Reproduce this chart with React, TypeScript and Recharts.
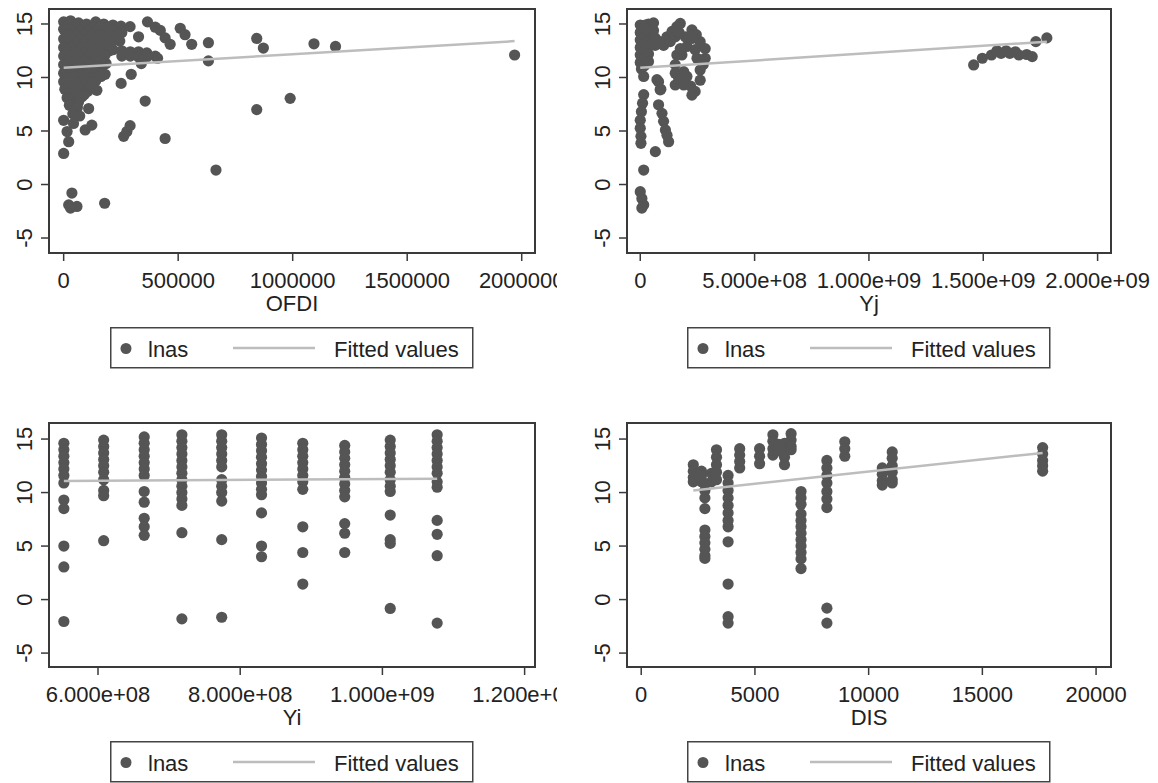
import React from 'react'
import { ScatterChart, Scatter, XAxis, YAxis, ReferenceArea } from 'recharts'

type Pt = [number, number]

const seriesNames = ['lnas', 'Fitted values']
const lnasTicks = [-5, 0, 5, 10, 15]

// panel 1: lnas vs OFDI
const ofdiTicks = [0, 500000, 1000000, 1500000, 2000000]
const ofdiTickLabels = ['0', '500000', '1000000', '1500000', '2000000']
const ofdiPoints: Pt[] = [
  [0, 15.2], [30000, 15.3], [65000, 15.1], [100000, 15.0], [140000, 15.2], [175000, 15.0], [215000, 14.9], [250000, 14.8], [290000, 14.75], [366000, 15.2],
  [18000, 14.8], [54000, 14.8], [90000, 14.8], [127000, 14.7], [163000, 14.8], [200000, 14.7], [236000, 14.6],
  [0, 14.5], [36000, 14.3], [72000, 14.4], [109000, 14.4], [145000, 14.3], [181000, 14.5], [218000, 14.3], [254000, 14.2],
  [18000, 14.0], [54000, 14.0], [90000, 14.0], [127000, 14.0], [163000, 14.0], [200000, 13.9], [236000, 13.9],
  [0, 13.6], [36000, 13.7], [72000, 13.5], [109000, 13.6], [145000, 13.5], [181000, 13.7], [218000, 13.5], [245000, 13.4], [327000, 13.8],
  [18000, 13.2], [54000, 13.2], [90000, 13.1], [127000, 13.2], [163000, 13.2], [200000, 13.1],
  [0, 12.8], [36000, 12.9], [72000, 12.7], [109000, 12.8], [145000, 12.7], [181000, 12.9], [215000, 12.6],
  [18000, 12.4], [54000, 12.4], [90000, 12.3], [127000, 12.4], [163000, 12.3], [200000, 12.5],
  [0, 12.0], [36000, 12.1], [72000, 11.9], [109000, 12.0], [150000, 11.9], [181000, 12.1],
  [18000, 11.6], [54000, 11.6], [90000, 11.5], [127000, 11.6], [163000, 11.6],
  [0, 11.2], [36000, 11.3], [72000, 11.1], [105000, 11.3], [150000, 11.0], [185000, 11.3],
  [18000, 10.8], [54000, 10.8], [90000, 10.8], [127000, 10.9], [163000, 10.8],
  [0, 10.4], [36000, 10.5], [72000, 10.3], [109000, 10.4], [145000, 10.5], [181000, 10.3],
  [18000, 10.0], [54000, 10.0], [90000, 10.0], [127000, 10.0], [163000, 10.1],
  [0, 9.6], [36000, 9.7], [72000, 9.5], [109000, 9.6], [140000, 9.7],
  [18000, 9.2], [54000, 9.2], [90000, 9.2], [127000, 9.2],
  [5000, 8.9], [36000, 8.8], [72000, 8.9], [105000, 8.7], [145000, 8.8],
  [20000, 8.5], [55000, 8.5], [90000, 8.4],
  [15000, 8.1], [45000, 8.0], [80000, 8.2],
  [30000, 7.7], [65000, 7.7],
  [25000, 7.4], [60000, 7.2], [109000, 7.1],
  [40000, 6.6], [70000, 6.4],
  [0, 6.0], [43000, 5.7], [94000, 5.1], [123000, 5.55], [15000, 4.95], [22000, 4.0], [0, 2.9],
  [254000, 12.5], [291000, 12.4], [327000, 12.4], [363000, 12.3], [400000, 12.0],
  [254000, 12.0], [291000, 12.0], [327000, 11.9], [363000, 11.9], [410000, 11.8], [339000, 11.3],
  [400000, 14.7], [422000, 14.4], [443000, 13.7], [465000, 13.1], [509000, 14.6], [530000, 14.0], [559000, 13.1],
  [632000, 13.25], [632000, 11.55], [843000, 13.65], [872000, 12.75], [1093000, 13.15], [1187000, 12.9], [1969000, 12.1],
  [251000, 9.45], [295000, 10.3], [356000, 7.8], [262000, 4.5], [276000, 4.95], [290000, 5.5], [443000, 4.3],
  [665000, 1.35], [843000, 7.0], [989000, 8.05],
  [179000, -1.75], [36000, -0.8], [22000, -1.9], [58000, -2.05], [30000, -2.2],
]
const ofdiFit: Pt[] = [[0, 10.9], [1969000, 13.4]]

// panel 2: lnas vs Yj
const yjTicks = [0, 500000000, 1000000000, 1500000000, 2000000000]
const yjTickLabels = ['0', '5.000e+08', '1.000e+09', '1.500e+09', '2.000e+09']
const yjPoints: Pt[] = [
  [0, 14.9], [0, 14.2], [0, 13.5], [0, 12.8], [0, 12.1], [0, 11.4], [5e6, 10.8], [1.5e7, 10.1],
  [1.8e7, 14.6], [1.8e7, 13.9], [1.8e7, 13.2], [1.8e7, 12.5], [1.8e7, 11.8], [1.8e7, 11.1],
  [2.2e7, 14.9], [3.6e7, 15.0], [3.6e7, 14.3], [3.6e7, 13.6], [3.6e7, 12.9], [3.6e7, 12.2], [3.6e7, 11.5],
  [5e7, 14.7], [5e7, 14.0], [5e7, 13.3],
  [5.8e7, 15.1], [5.8e7, 14.4], [6.5e7, 13.7], [6.5e7, 13.0],
  [8.7e7, 13.35], [1.02e8, 13.0], [1.17e8, 13.8], [1.31e8, 13.35], [1.39e8, 14.3], [1.53e8, 13.8], [1.6e8, 14.75], [1.7e8, 14.2], [1.75e8, 15.05],
  [7.3e7, 9.8], [8.0e7, 9.6], [8.7e7, 8.85], [9.0e7, 8.9],
  [1.5e7, 8.4], [1.0e7, 7.6], [5e6, 6.8], [0, 6.0], [0, 5.25], [3e6, 4.5], [3e6, 3.85],
  [8.0e7, 7.45], [9.5e7, 6.65], [1.02e8, 5.9], [1.1e8, 5.1], [1.17e8, 4.6], [1.24e8, 4.0],
  [6.6e7, 3.07], [1.5e7, 1.35], [0, -0.67], [7e6, -1.3], [1.5e7, -1.9], [7e6, -2.2],
  [2.26e8, 14.45], [2.45e8, 14.0], [2.62e8, 13.35], [2.84e8, 12.7], [2.84e8, 11.8], [2.75e8, 11.2], [2.62e8, 10.7],
  [2.62e8, 9.75], [2.4e8, 8.7], [2.26e8, 8.35], [1.6e8, 12.1], [1.53e8, 11.2], [1.53e8, 10.4], [1.53e8, 9.3],
  [1.9e8, 9.3], [1.82e8, 12.1], [2.04e8, 12.9], [1.97e8, 13.8], [2.26e8, 13.65], [2.4e8, 12.6], [2.48e8, 11.8],
  [1.9e8, 10.55], [2.04e8, 10.1], [1.68e8, 9.9], [2.2e8, 9.2], [1.75e8, 12.7],
  [1.458e9, 11.17], [1.496e9, 11.8], [1.536e9, 12.1], [1.56e9, 12.5], [1.578e9, 12.25], [1.6e9, 12.5], [1.616e9, 12.25],
  [1.64e9, 12.4], [1.656e9, 12.1], [1.69e9, 12.15], [1.714e9, 11.95], [1.73e9, 13.35], [1.778e9, 13.7],
]
const yjFit: Pt[] = [[0, 10.9], [1.778e9, 13.35]]

// panel 3: lnas vs Yi (one column per year)
const yiTicks = [600000000, 800000000, 1000000000, 1200000000]
const yiTickLabels = ['6.000e+08', '8.000e+08', '1.000e+09', '1.200e+09']
const yiColumnX = [5.52e8, 6.08e8, 6.65e8, 7.18e8, 7.74e8, 8.3e8, 8.88e8, 9.47e8, 1.011e9, 1.077e9]
const yiColumnValues = [
  [14.6, 14.0, 13.4, 12.8, 12.2, 11.6, 10.9, 9.3, 8.5, 5.0, 3.05, -2.05],
  [14.9, 14.3, 13.7, 13.1, 12.5, 11.9, 11.2, 10.2, 9.7, 5.5],
  [15.2, 14.6, 14.0, 13.4, 12.8, 12.2, 11.6, 10.1, 9.1, 7.6, 6.8, 6.0],
  [15.4, 14.8, 14.2, 13.6, 13.0, 12.4, 11.8, 11.2, 10.6, 10.0, 9.4, 8.8, 6.25, -1.8],
  [15.4, 14.8, 14.2, 13.6, 13.0, 12.4, 11.2, 10.6, 10.0, 9.2, 5.6, -1.65],
  [15.1, 14.5, 13.9, 13.3, 12.7, 12.1, 11.5, 10.9, 10.3, 9.8, 8.1, 5.0, 4.0],
  [14.6, 14.0, 13.4, 12.8, 12.2, 11.6, 11.0, 10.3, 6.8, 4.4, 1.45],
  [14.4, 13.8, 13.2, 12.6, 12.0, 11.4, 10.8, 10.2, 9.6, 7.1, 6.2, 4.4],
  [14.9, 14.3, 13.7, 13.1, 12.5, 11.9, 11.2, 10.6, 10.1, 7.9, 5.6, 5.25, -0.83],
  [15.4, 14.8, 14.2, 13.6, 13.0, 12.4, 11.8, 11.0, 10.5, 7.4, 6.1, 4.1, -2.2],
]
const yiFit: Pt[] = [[5.52e8, 11.07], [1.077e9, 11.3]]

// panel 4: lnas vs DIS (one column per partner distance)
const disTicks = [0, 5000, 10000, 15000, 20000]
const disTickLabels = ['0', '5000', '10000', '15000', '20000']
const disColumnX = [2290, 2650, 2800, 3090, 3310, 3820, 4330, 5205, 5790, 6050, 6300, 6590, 7027, 8164, 8951, 10600, 11036, 17650]
const disColumnValues = [
  [12.6, 12.0, 11.4, 11.0],
  [12.0, 11.6, 11.0],
  [10.85, 10.2, 9.5, 8.5, 6.5, 5.9, 5.3, 4.7, 4.1, 3.85],
  [11.8, 11.0],
  [14.0, 13.3, 12.6, 11.9, 11.2],
  [11.6, 10.9, 10.2, 9.5, 8.8, 8.1, 7.4, 6.8, 5.4, 1.45, -1.6, -2.2],
  [14.1, 13.5, 12.9, 12.3],
  [14.1, 13.4, 12.7],
  [15.4, 14.8, 14.1, 13.5],
  [14.5, 13.9],
  [14.6, 14.0, 13.3, 12.6],
  [15.5, 14.9, 14.3, 14.0],
  [10.1, 9.5, 8.9, 8.0, 7.4, 6.8, 6.2, 5.6, 5.0, 4.4, 3.8, 2.9],
  [13.0, 12.3, 11.6, 10.9, 10.1, 9.4, 8.6, -0.8, -2.2],
  [14.75, 14.1, 13.4],
  [12.3, 11.7, 11.1, 10.7],
  [13.8, 13.2, 12.5, 11.9, 11.2, 10.9],
  [14.2, 13.6, 13.0, 12.5, 12.0],
]
const disFit: Pt[] = [[2290, 10.2], [17650, 13.7]]

const FONT = '"Liberation Sans", Arial, sans-serif'
const MARKER = '#555555'
const FIT = '#bdbdbd'
const FRAME = '#3a3a3a'
const TEXT = '#222'

const toRows = (pts: Pt[]) => pts.map(([x, y]) => ({ x, y }))
const fromColumns = (xs: number[], cols: number[][]): Pt[] =>
  xs.flatMap((x, i) => cols[i].map((y) => [x, y] as Pt))

const Dot = (props: any) => <circle cx={props.cx} cy={props.cy} r={5.6} fill={MARKER} />
const NoDot = () => <g />

function makeXTick(ticks: number[], labels: string[]) {
  return (props: any) => {
    const { x, y, payload } = props
    const i = ticks.indexOf(payload.value)
    return (
      <g>
        <line x1={x} x2={x} y1={y} y2={y + 8} stroke={FRAME} strokeWidth={1.5} />
        <text x={x} y={y + 35} textAnchor="middle" fontSize={22} fontFamily={FONT} fill={TEXT}>
          {i >= 0 ? labels[i] : payload.value}
        </text>
      </g>
    )
  }
}

const YTick = (props: any) => {
  const { x, y, payload } = props
  const tx = x - 17
  return (
    <g>
      <line x1={x - 8} x2={x} y1={y} y2={y} stroke={FRAME} strokeWidth={1.5} />
      <text x={tx} y={y} transform={`rotate(-90 ${tx} ${y})`} textAnchor="middle" fontSize={22} fontFamily={FONT} fill={TEXT}>
        {payload.value}
      </text>
    </g>
  )
}

type PanelProps = {
  left: number
  top: number
  clip: number
  width: number
  marginRight: number
  points: Pt[]
  fit: Pt[]
  xDomain: [number, number]
  yDomain: [number, number]
  xTicks: number[]
  xLabels: string[]
  title: string
}

function Panel(p: PanelProps) {
  return (
    <div style={{ position: 'absolute', left: p.left, top: p.top, width: p.clip, height: 320, overflow: 'hidden' }}>
      <ScatterChart width={p.width} height={320} margin={{ top: 9, right: p.marginRight, bottom: 0, left: 0 }}>
        <XAxis
          type="number"
          dataKey="x"
          domain={p.xDomain}
          allowDataOverflow
          ticks={p.xTicks}
          interval={0}
          height={67}
          axisLine={false}
          tickLine={false}
          tickSize={0}
          tickMargin={0}
          tick={makeXTick(p.xTicks, p.xLabels)}
          label={{ value: p.title, position: 'insideBottom', offset: 9, fontSize: 22, fontFamily: FONT, fill: TEXT }}
        />
        <YAxis
          type="number"
          dataKey="y"
          domain={p.yDomain}
          allowDataOverflow
          ticks={lnasTicks}
          interval={0}
          width={49}
          axisLine={false}
          tickLine={false}
          tickSize={0}
          tickMargin={0}
          tick={YTick}
        />
        <ReferenceArea x1={p.xDomain[0]} x2={p.xDomain[1]} y1={p.yDomain[0]} y2={p.yDomain[1]} fill="none" fillOpacity={0} stroke={FRAME} strokeWidth={2} />
        <Scatter name={seriesNames[0]} data={toRows(p.points)} shape={Dot} isAnimationActive={false} />
        <Scatter name={seriesNames[1]} data={toRows(p.fit)} shape={NoDot} line={{ stroke: FIT, strokeWidth: 2.5 }} isAnimationActive={false} />
      </ScatterChart>
    </div>
  )
}

function LegendBox({ left, top }: { left: number; top: number }) {
  return (
    <svg width={364} height={42} style={{ position: 'absolute', left, top }}>
      <rect x={0.75} y={0.75} width={362} height={40} fill="#fff" stroke="#444" strokeWidth={1.5} />
      <circle cx={16} cy={21.5} r={5.5} fill={MARKER} />
      <text x={38} y={30} fontSize={22} fontFamily={FONT} fill={TEXT}>{seriesNames[0]}</text>
      <line x1={123} x2={205} y1={21} y2={21} stroke={FIT} strokeWidth={2.5} />
      <text x={224} y={30} fontSize={22} fontFamily={FONT} fill={TEXT}>{seriesNames[1]}</text>
    </svg>
  )
}

export default function App() {
  return (
    <div style={{ position: 'absolute', left: 0, top: 0, width: 1158, height: 783, background: '#fff', overflow: 'hidden' }}>
      <Panel left={0} top={0} clip={557} width={560} marginRight={25} points={ofdiPoints} fit={ofdiFit}
        xDomain={[-64000, 2058000]} yDomain={[-6.4, 16.4]} xTicks={ofdiTicks} xLabels={ofdiTickLabels} title="OFDI" />
      <Panel left={578} top={0} clip={580} width={580} marginRight={47} points={yjPoints} fit={yjFit}
        xDomain={[-58000000, 2058600000]} yDomain={[-6.4, 16.4]} xTicks={yjTicks} xLabels={yjTickLabels} title="Yj" />
      <Panel left={0} top={414} clip={557} width={560} marginRight={25} points={fromColumns(yiColumnX, yiColumnValues)} fit={yiFit}
        xDomain={[531100000, 1214600000]} yDomain={[-6.3, 16.5]} xTicks={yiTicks} xLabels={yiTickLabels} title="Yi" />
      <Panel left={578} top={414} clip={580} width={580} marginRight={47} points={fromColumns(disColumnX, disColumnValues)} fit={disFit}
        xDomain={[-625, 20656]} yDomain={[-6.3, 16.5]} xTicks={disTicks} xLabels={disTickLabels} title="DIS" />
      <LegendBox left={110} top={327} />
      <LegendBox left={687} top={327} />
      <LegendBox left={110} top={741} />
      <LegendBox left={687} top={741} />
    </div>
  )
}
